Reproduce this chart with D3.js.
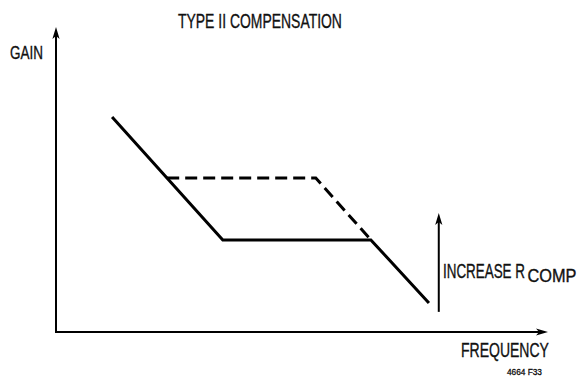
<!DOCTYPE html>
<html>
<head>
<meta charset="utf-8">
<script src="https://cdn.jsdelivr.net/npm/d3@7"></script>
<style>
  html, body { margin: 0; padding: 0; background: #fff; }
  svg { display: block; }
  text { font-family: "Liberation Sans Narrow", "Arial Narrow", "Liberation Sans", Arial, sans-serif; fill: #111; stroke: #111; stroke-width: 0.35; }
</style>
</head>
<body>
<svg id="chart" width="578" height="377"></svg>
<script>
// Asymptotic gain curve of a Type II compensation network (arbitrary units, 0–100)
const baseCurveFreq = [11.4, 33.9, 64.0, 75.8];
const baseCurveGain = [70.5, 30.2, 30.2, 9.5];

// Same network with a larger R_COMP: the mid-band plateau rises
const raisedCurveFreq = [22.6, 52.8, 64.0];
const raisedCurveGain = [50.5, 50.5, 30.2];

// "Increase R_COMP" indicator arrow
const arrowFreq = [77.8, 77.8];
const arrowGain = [6.6, 39.0];

const titleText = "TYPE II COMPENSATION";
const yLabel = "GAIN";
const xLabel = "FREQUENCY";
const figureId = "4664 F33";

const svg = d3.select("#chart");

const x = d3.scaleLinear().domain([0, 100]).range([56, 548]);
const y = d3.scaleLinear().domain([0, 100]).range([332, 27]);

const line = d3.line().x(d => x(d[0])).y(d => y(d[1]));

// filled arrowhead with its tip at (tx, ty), pointing along angle (radians)
function arrowHead(tx, ty, angle, len = 12, half = 3.6) {
  const c = Math.cos(angle), s = Math.sin(angle);
  const bx = tx - c * len, by = ty - s * len;
  const nx = tx - c * (len - 3), ny = ty - s * (len - 3);
  return `M${tx},${ty}L${bx - s * half},${by + c * half}L${nx},${ny}L${bx + s * half},${by - c * half}Z`;
}

// axes
const [x0, x1] = x.range();
const [y0, y1] = y.range();
svg.append("line")
  .attr("x1", x0).attr("y1", y0).attr("x2", x0).attr("y2", y1 + 8)
  .attr("stroke", "#000").attr("stroke-width", 2);
svg.append("path").attr("d", arrowHead(x0, y1, -Math.PI / 2)).attr("fill", "#000");
svg.append("line")
  .attr("x1", x0 - 1).attr("y1", y0).attr("x2", x1 - 8).attr("y2", y0)
  .attr("stroke", "#000").attr("stroke-width", 2);
svg.append("path").attr("d", arrowHead(x1, y0, 0)).attr("fill", "#000");

// raised (dashed) curve
svg.append("path")
  .datum(d3.zip(raisedCurveFreq, raisedCurveGain))
  .attr("d", line)
  .attr("fill", "none").attr("stroke", "#000")
  .attr("stroke-width", 3).attr("stroke-dasharray", "12,6");

// base (solid) curve
svg.append("path")
  .datum(d3.zip(baseCurveFreq, baseCurveGain))
  .attr("d", line)
  .attr("fill", "none").attr("stroke", "#000")
  .attr("stroke-width", 3).attr("stroke-linejoin", "miter");

// indicator arrow
const ax = x(arrowFreq[0]);
svg.append("line")
  .attr("x1", ax).attr("y1", y(arrowGain[0])).attr("x2", ax).attr("y2", y(arrowGain[1]) + 8)
  .attr("stroke", "#000").attr("stroke-width", 2);
svg.append("path").attr("d", arrowHead(ax, y(arrowGain[1]), -Math.PI / 2)).attr("fill", "#000");

// condensed labels: horizontally scale each string to the given width
function label(str, px, py, size, width) {
  const t = svg.append("text").attr("x", 0).attr("y", 0)
    .attr("font-size", size).text(str);
  const natural = t.node().getComputedTextLength() || width;
  t.attr("transform", `translate(${px},${py}) scale(${width / natural},1)`);
  return t;
}

label(titleText, 178, 28, 20, 164);
label(yLabel, 10, 59, 18, 33);
label(xLabel, 461, 356.5, 20, 88);
label("INCREASE R", 443, 278, 20, 82);
label("COMP", 527.5, 282, 17.5, 49);
label(figureId, 507, 374.5, 9.5, 35);
</script>
</body>
</html>
